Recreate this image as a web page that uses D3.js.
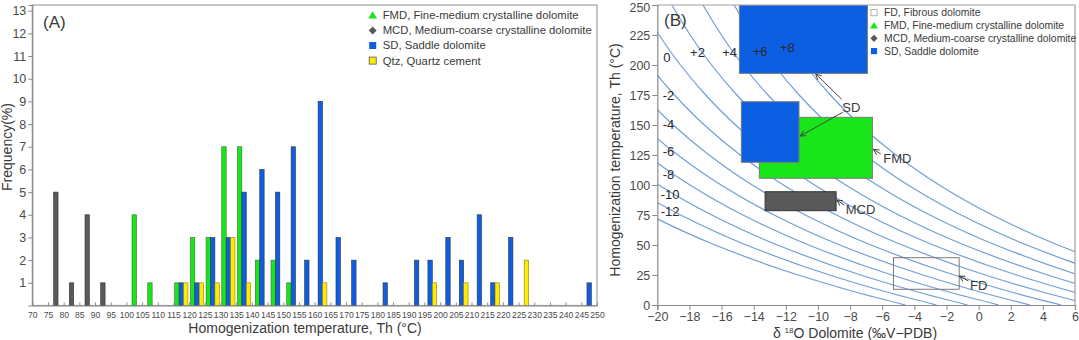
<!DOCTYPE html>
<html>
<head>
<meta charset="utf-8">
<script src="https://cdn.jsdelivr.net/npm/d3@7"></script>
<style>
  body { margin: 0; background: #fff; }
  svg { display: block; font-family: 'Liberation Sans', Arial, sans-serif; }
</style>
</head>
<body>
<div id="graphic"></div>
<script>
// ---- Panel A data: [bin start (°C), frequency (%)]
const mcdBars = [[75, 5], [80, 1], [85, 4], [90, 1]];
const fmdBars = [[100, 4], [105, 1], [115, 1], [120, 3], [125, 3], [130, 7], [135, 7], [140, 2], [145, 2], [150, 1]];
const sdBars = [[115, 1], [120, 1], [125, 3], [130, 3], [135, 5], [140, 6], [145, 5], [150, 7], [155, 2], [160, 9],
  [165, 3], [170, 2], [180, 1], [190, 2], [195, 2], [200, 3], [205, 2], [210, 4], [215, 1], [220, 3], [245, 1]];
const qtzBars = [[115, 1], [120, 1], [125, 1], [130, 3], [135, 1], [160, 1], [195, 1], [205, 1], [215, 1], [225, 2]];
const xTicksA = d3.range(70, 251, 5);
const yTicksA = d3.range(1, 14);
const legendA = ['FMD, Fine-medium crystalline dolomite', 'MCD, Medium-coarse crystalline dolomite', 'SD, Saddle  dolomite', 'Qtz, Quartz cement'];

// ---- Panel B data
// isoline for water δ18O = 0 ‰ (SMOW): [Th °C, δ18O dolomite ‰ PDB]
const isoBase = [[0, 9.02], [10, 6.14], [25, 2.36], [50, -2.82], [75, -6.91], [100, -10.21], [125, -12.90],
  [150, -15.13], [175, -16.99], [200, -18.56], [225, -19.89], [250, -21.04]];
const waterValues = [-14, -12, -10, -8, -6, -4, -2, 0, 2, 4, 6, 8];
// curve labels: [text, δ18O, Th]
const isoLabels = [['0', -19.4, 206.7], ['+2', -17.5, 210.8], ['+4', -15.5, 210.8], ['+6', -13.6, 211.7], ['+8', -11.9, 215],
  ['-2', -19.3, 175], ['-4', -19.3, 150.8], ['-6', -19.3, 128.3], ['-8', -19.3, 109.2], ['-10', -19.2, 92.5], ['-12', -19.2, 77.7]];
// ranges: [name, δmin, δmax, Thmin, Thmax]
const boxes = [['SD', -14.89, -6.92, 193, 250], ['FMD', -13.65, -6.61, 105.6, 156.4], ['SD', -14.77, -11.18, 118.9, 169.4],
  ['MCD', -13.29, -8.87, 78.6, 94.4], ['FD', -5.3, -1.21, 13.1, 39.4]];
// annotation arrows: [from δ, from Th, to δ, to Th]
const arrows = [[-8.52, 171.4, -10.14, 192.5], [-8.46, 160.6, -11.11, 140.8], [-6.09, 125.8, -6.55, 129.7],
  [-8.36, 83.3, -8.83, 87.5], [-0.64, 20, -1.2, 24.2]];
const notes = [['SD', -7.92, 164.7, 'middle'], ['FMD', -5.93, 122.3, 'start'], ['MCD', -8.27, 80, 'start'], ['FD', -0.53, 16.7, 'start']];
const legendB = ['FD, Fibrous dolomite', 'FMD, Fine-medium crystalline dolomite', 'MCD, Medium-coarse crystalline dolomite', 'SD, Saddle  dolomite'];
const xTicksB = d3.range(-20, 7, 2);
const yTicksB = d3.range(0, 251, 25);

const colours = { mcd: '#595959', fmd: '#19e619', sd: '#0c5fe3', qtz: '#ffeb00' };
const textCol = '#3a3a3a';
const axisCol = '#8a8a8a';

const svg = d3.select('#graphic').append('svg').attr('width', 1079).attr('height', 340);

// =============== Panel A ===============
const xA = d3.scaleLinear().domain([70, 250]).range([32.3, 597]);
const yA = d3.scaleLinear().domain([0, 13.25]).range([305.5, 5]);
const gA = svg.append('g');

gA.append('rect').attr('x', xA(70)).attr('y', yA(13.25)).attr('width', xA(250) - xA(70)).attr('height', yA(0) - yA(13.25))
  .attr('fill', 'none').attr('stroke', '#a0a0a0').attr('stroke-width', 1.2);

// bars: group series present in each bin, centred on the bin
const series = [['mcd', mcdBars], ['fmd', fmdBars], ['sd', sdBars], ['qtz', qtzBars]];
const barData = [];
xTicksA.forEach(b => {
  const members = [];
  series.forEach(([key, arr]) => {
    const hit = arr.find(d => d[0] === b);
    if (hit) members.push({ key, bin: b, value: hit[1] });
  });
  const bw = 4.4;
  const centre = xA(b + 2.5);
  members.forEach((m, i) => {
    m.x0 = centre - members.length * bw / 2 + i * bw;
    m.w = bw;
    barData.push(m);
  });
});

gA.selectAll('rect.bar').data(barData).join('rect')
  .attr('class', 'bar')
  .attr('x', d => d.x0).attr('width', d => d.w)
  .attr('y', d => yA(d.value)).attr('height', d => yA(0) - yA(d.value))
  .attr('fill', d => colours[d.key])
  .attr('stroke', d => d.key === 'qtz' ? '#8a7d20' : (d.key === 'fmd' ? '#3a6a3a' : '#333'))
  .attr('stroke-width', 0.6);

const axA_y = gA.append('g').attr('transform', `translate(${xA(70)},0)`)
  .call(d3.axisLeft(yA).tickValues(yTicksA).tickSize(4).tickPadding(2));
const axA_x = gA.append('g').attr('transform', `translate(0,${yA(0)})`)
  .call(d3.axisBottom(xA).tickValues(xTicksA).tickSizeInner(-3).tickSizeOuter(0).tickPadding(6));
[axA_y, axA_x].forEach(a => {
  a.select('.domain').attr('stroke', axisCol).attr('stroke-width', 1.2);
  a.selectAll('.tick line').attr('stroke', axisCol);
  a.selectAll('text').attr('fill', '#4a4a4a').style('font-family', 'Liberation Sans, Arial, sans-serif');
});
axA_y.selectAll('text').style('font-size', '12.5px');
axA_x.selectAll('text').style('font-size', '8.6px');

gA.append('text').attr('x', 43).attr('y', 28).attr('fill', textCol).style('font-size', '17px').text('(A)');
gA.append('text').attr('transform', 'translate(12,147) rotate(-90)').attr('text-anchor', 'middle')
  .attr('fill', textCol).style('font-size', '14px').text('Frequency(%)');
gA.append('text').attr('x', 305).attr('y', 333).attr('text-anchor', 'middle')
  .attr('fill', textCol).style('font-size', '14px').text('Homogenization temperature, Th (°C)');

// legend A
const markerA = ['tri', 'dia', 'sq', 'sq'];
const markerColA = [colours.fmd, colours.mcd, colours.sd, colours.qtz];
const legA = gA.selectAll('g.leg').data(legendA).join('g').attr('class', 'leg')
  .attr('transform', (d, i) => `translate(372.7,${15.3 + i * 15.1})`);
legA.each(function (d, i) { drawMarker(d3.select(this), markerA[i], markerColA[i], i === 3 ? '#555' : 'none', 4); });
legA.append('text').attr('x', 10).attr('dy', '0.35em').attr('fill', textCol).style('font-size', '11.3px').text(d => d);

function drawMarker(g, type, fill, stroke, r) {
  if (type === 'tri') {
    g.append('path').attr('d', `M0,${-r}L${r * 1.1},${r * 0.8}L${-r * 1.1},${r * 0.8}Z`).attr('fill', fill);
  } else if (type === 'dia') {
    g.append('path').attr('d', `M0,${-r}L${r},0L0,${r}L${-r},0Z`).attr('fill', fill);
  } else {
    g.append('rect').attr('x', -r + 0.5).attr('y', -r + 0.5).attr('width', 2 * r - 1).attr('height', 2 * r - 1)
      .attr('fill', fill).attr('stroke', stroke).attr('stroke-width', 0.8);
  }
}

// =============== Panel B ===============
const xB = d3.scaleLinear().domain([-20, 6]).range([657.3, 1075]);
const yB = d3.scaleLinear().domain([0, 250]).range([305, 5]);
const gB = svg.append('g');

svg.append('clipPath').attr('id', 'clipB').append('rect')
  .attr('x', xB(-20)).attr('y', yB(250)).attr('width', xB(6) - xB(-20)).attr('height', yB(0) - yB(250));

const plotB = gB.append('g').attr('clip-path', 'url(#clipB)');
const isoLine = d3.line().y(d => yB(d[0])).curve(d3.curveMonotoneY);
plotB.selectAll('path.iso').data(waterValues).join('path').attr('class', 'iso')
  .attr('d', w => isoLine.x(d => xB(d[1] + 0.97 * w))(isoBase))
  .attr('fill', 'none').attr('stroke', '#6f9fd8').attr('stroke-width', 1.2);

plotB.selectAll('rect.box').data(boxes).join('rect').attr('class', 'box')
  .attr('x', d => xB(d[1])).attr('width', d => xB(d[2]) - xB(d[1]))
  .attr('y', d => yB(d[4])).attr('height', d => yB(d[3]) - yB(d[4]))
  .attr('fill', d => d[0] === 'FD' ? 'none' : colours[d[0].toLowerCase()])
  .attr('stroke', d => d[0] === 'MCD' ? '#333' : '#7a7a7a').attr('stroke-width', 1);

gB.selectAll('text.iso').data(isoLabels).join('text').attr('class', 'iso')
  .attr('x', d => xB(d[1])).attr('y', d => yB(d[2])).attr('dy', '0.35em').attr('text-anchor', 'middle')
  .attr('fill', '#2a2a2a').style('font-size', '13px').text(d => d[0]);

// frame: top + right
gB.append('path').attr('d', `M${xB(-20)},${yB(250)}H${xB(6)}V${yB(0)}`)
  .attr('fill', 'none').attr('stroke', '#a0a0a0').attr('stroke-width', 1.2);

const axB_x = gB.append('g').attr('transform', `translate(0,${yB(0)})`)
  .call(d3.axisBottom(xB).tickValues(xTicksB).tickSize(5).tickPadding(2));
const axB_y = gB.append('g').attr('transform', `translate(${xB(-20)},0)`)
  .call(d3.axisLeft(yB).tickValues(yTicksB).tickSize(5).tickPadding(2));
[axB_x, axB_y].forEach(a => {
  a.select('.domain').attr('stroke', axisCol).attr('stroke-width', 1.2);
  a.selectAll('.tick line').attr('stroke', axisCol);
  a.selectAll('text').attr('fill', '#4a4a4a').style('font-size', '12.5px').style('font-family', 'Liberation Sans, Arial, sans-serif');
});
// keep the top label inside the picture
axB_y.selectAll('.tick text').filter(d => d === 250).attr('y', 2);

// arrows
svg.append('defs').append('marker').attr('id', 'arrowB').attr('viewBox', '0 0 10 10')
  .attr('refX', 9).attr('refY', 5).attr('markerWidth', 7).attr('markerHeight', 7).attr('orient', 'auto')
  .append('path').attr('d', 'M1,1L9,5L1,9').attr('fill', 'none').attr('stroke', '#444').attr('stroke-width', 1.3);
gB.selectAll('line.arr').data(arrows).join('line').attr('class', 'arr')
  .attr('x1', d => xB(d[0])).attr('y1', d => yB(d[1])).attr('x2', d => xB(d[2])).attr('y2', d => yB(d[3]))
  .attr('stroke', '#444').attr('stroke-width', 1).attr('marker-end', 'url(#arrowB)');
gB.selectAll('text.note').data(notes).join('text').attr('class', 'note')
  .attr('x', d => xB(d[1])).attr('y', d => yB(d[2])).attr('dy', '0.35em').attr('text-anchor', d => d[3])
  .attr('fill', textCol).style('font-size', '13px').text(d => d[0]);

gB.append('text').attr('x', 664).attr('y', 26).attr('fill', textCol).style('font-size', '17px').text('(B)');
gB.append('text').attr('transform', 'translate(620,160) rotate(-90)').attr('text-anchor', 'middle')
  .attr('fill', textCol).style('font-size', '14px').text('Homogenization temperature, Th (°C)');
const xt = gB.append('text').attr('x', 855).attr('y', 338).attr('text-anchor', 'middle')
  .attr('fill', textCol).style('font-size', '14px');
xt.append('tspan').text('δ ');
xt.append('tspan').attr('dy', -5).style('font-size', '8px').text('18');
xt.append('tspan').attr('dy', 5).text('O  Dolomite (‰V−PDB)');

// legend B
const markerB = ['sq', 'tri', 'dia', 'sq'];
const markerColB = ['#fff', colours.fmd, colours.mcd, colours.sd];
const legB = gB.selectAll('g.legb').data(legendB).join('g').attr('class', 'legb')
  .attr('transform', (d, i) => `translate(874,${12.7 + i * 12.8})`);
legB.each(function (d, i) { drawMarker(d3.select(this), markerB[i], markerColB[i], i === 0 ? '#999' : 'none', 3.6); });
legB.append('text').attr('x', 10).attr('dy', '0.35em').attr('fill', textCol).style('font-size', '10.4px').text(d => d);
</script>
</body>
</html>
